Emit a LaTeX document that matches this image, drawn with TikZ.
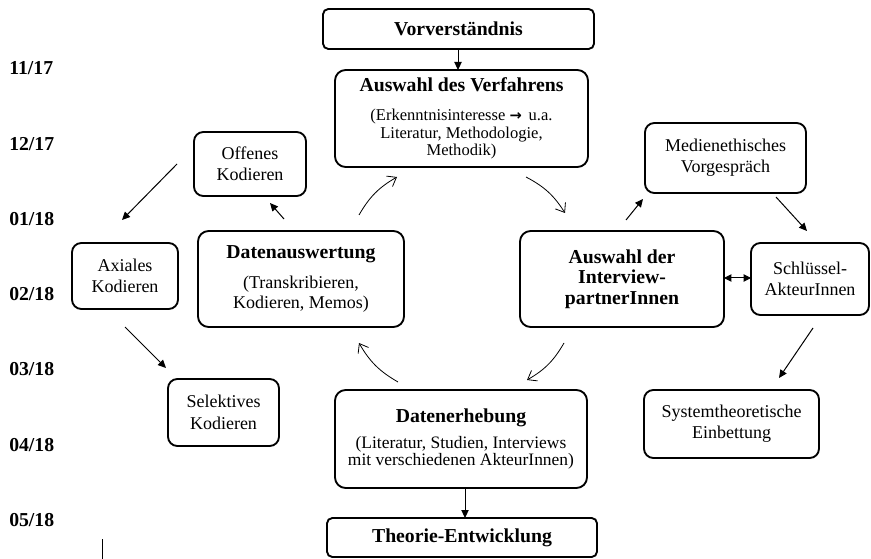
\documentclass[tikz,border=0pt]{standalone}
\usepackage{fontspec}
\setmainfont{Liberation Serif}
\newfontfamily\arrowfont{DejaVu Sans}
\usetikzlibrary{arrows.meta}
\newcommand\myT{\fontsize{14.8pt}{17pt}\selectfont\bfseries}
\begin{document}
\begin{tikzpicture}[x=0.75pt,y=-0.75pt,
  box/.style={draw,line width=1.4pt,rounded corners=8pt,align=center,inner sep=0pt,outer sep=0pt},
  sz/.style 2 args={minimum width=#1*0.75pt,minimum height=#2*0.75pt},
  small/.style={box,rounded corners=7pt,font=\fontsize{13.5pt}{16pt}\selectfont},
  fa/.style={-{Triangle[length=6pt,width=5.5pt]},line width=0.75pt},
  da/.style={{Triangle[length=5.5pt,width=5.5pt]}-{Triangle[length=5.5pt,width=5.5pt]},line width=0.75pt},
  oa/.style={-{Straight Barb[length=6pt,width=9pt]},line width=0.6pt},
  date/.style={anchor=west,font=\myT,inner sep=0pt}]
\useasboundingbox (0,0) rectangle (871,559);

% date labels
\node[date] (d1) at (9,68) {11/17};
\node[date] (d2) at (9,144) {12/17};
\node[date] (d3) at (9,219) {01/18};
\node[date] (d4) at (9,294) {02/18};
\node[date] (d5) at (9,369) {03/18};
\node[date] (d6) at (9,445) {04/18};
\node[date] (d7) at (9,520) {05/18};
\coordinate (m1) at (102,539);
\coordinate (m2) at (102,559);
\draw[line width=0.75pt] (m1) -- (m2);

% main boxes
\node[box,sz={271}{40},rounded corners=4pt,font=\myT] (vor) at (458.5,29) {Vorverständnis};
\node[box,sz={253}{97},font=\fontsize{12.4pt}{13.2pt}\selectfont] (adv) at (461.5,118.5)
  {{\myT Auswahl des Verfahrens}\\[8.5pt]
   (Erkenntnisinteresse {\arrowfont\bfseries\fontsize{11pt}{13pt}\selectfont →} \,u.a.\\Literatur, Methodologie,\\Methodik)};
\node[box,sz={206}{96},font=\fontsize{13.5pt}{15pt}\selectfont] (daus) at (301,279)
  {{\myT Datenauswertung}\\[7.5pt]
   (Transkribieren,\\Kodieren, Memos)};
\node[box,sz={204}{96},font=\fontsize{14.8pt}{15.4pt}\selectfont\bfseries] (adi) at (622,279)
  {Auswahl der\\Interview-\\partnerInnen};
\node[box,sz={252}{98},font=\fontsize{13.1pt}{12.9pt}\selectfont] (der) at (461,439)
  {{\myT Datenerhebung}\\[7pt]
   (Literatur, Studien, Interviews\\mit verschiedenen AkteurInnen)};
\node[box,sz={270}{39},rounded corners=4pt,font=\myT] (the) at (462,537.5) {Theorie-Entwicklung};

% small boxes
\node[small,sz={112}{64}] (off) at (250,164) {Offenes\\Kodieren};
\node[small,sz={106}{66}] (ax) at (125,276) {Axiales\\Kodieren};
\node[small,sz={111}{67}] (sel) at (223.5,412.5) {Selektives\\Kodieren};
\node[small,sz={161}{70}] (med) at (725.5,158) {Medienethisches\\Vorgespräch};
\node[small,sz={118}{72}] (sch) at (810,279) {Schlüssel-\\AkteurInnen};
\node[small,sz={175}{68}] (sys) at (731.5,424) {Systemtheoretische\\Einbettung};

% straight arrows
\draw[fa] (vor.south -| 458,0) -- (adv.north -| 458,0);
\draw[fa] (der.south -| 465,0) -- (the.north -| 465,0);

\coordinate (a1) at (284,219); \coordinate (a2) at (270,203);
\draw[fa] (a1) -- (a2);
\coordinate (b1) at (177,164); \coordinate (b2) at (122,220);
\draw[fa] (b1) -- (b2);
\coordinate (c1) at (125,327); \coordinate (c2) at (166,368);
\draw[fa] (c1) -- (c2);
\coordinate (e1) at (626,220); \coordinate (e2) at (643,199);
\draw[fa] (e1) -- (e2);
\coordinate (f1) at (776,197); \coordinate (f2) at (807,231);
\draw[fa] (f1) -- (f2);
\draw[da] (adi.east |- 0,278) -- (sch.west |- 0,278);
\coordinate (g1) at (813,328); \coordinate (g2) at (779,378);
\draw[fa] (g1) -- (g2);

% cycle arrows (curved, open heads)
\coordinate (k1) at (359,215); \coordinate (k2) at (397,177);
\draw[oa] (k1) to[bend left=15] (k2);
\coordinate (l1) at (526,177); \coordinate (l2) at (565,213);
\draw[oa] (l1) to[bend left=15] (l2);
\coordinate (n1) at (564,343); \coordinate (n2) at (527,380);
\draw[oa] (n1) to[bend left=15] (n2);
\coordinate (p1) at (398,382); \coordinate (p2) at (359,343);
\draw[oa] (p1) to[bend left=15] (p2);
\end{tikzpicture}
\end{document}
